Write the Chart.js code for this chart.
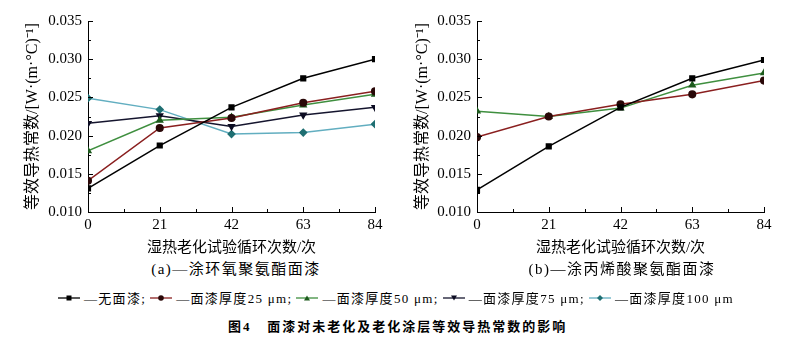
<!DOCTYPE html>
<html>
<head>
<meta charset="utf-8">
<script src="https://cdn.jsdelivr.net/npm/chart.js@4.4.0/dist/chart.umd.min.js"></script>
<style>
  body { margin: 0; background: #fff; width: 800px; height: 341px; position: relative; overflow: hidden;
         font-family: "Liberation Serif", "Noto Sans CJK SC", serif; color: #000; }
  .box { position: absolute; top: 0; width: 400px; height: 257px; }
  .sub { position: absolute; top: 257px; font-size: 15px; letter-spacing: 1.5px; white-space: nowrap; transform: translateX(-50%); }
  #legend { position: absolute; top: 288px; left: 58px; font-size: 13px; letter-spacing: 1.3px; white-space: nowrap; display: flex; align-items: center; }
  #legend span.item { display: inline-flex; align-items: center; margin-right: 4px; }
  #legend svg { margin-right: 4px; }
  #caption { position: absolute; top: 316px; left: 228px; font-size: 13px; letter-spacing: 2px; white-space: nowrap; font-weight: bold; }
</style>
</head>
<body>
<div class="box" style="left:0"><canvas id="chartA"></canvas></div>
<div class="box" style="left:390px"><canvas id="chartB"></canvas></div>
<div class="sub" style="left:236px">(a)—涂环氧聚氨酯面漆</div>
<div class="sub" style="left:622px">(b)—涂丙烯酸聚氨酯面漆</div>
<div id="legend"></div>
<div id="caption">图4&nbsp;&nbsp;&nbsp;面漆对未老化及老化涂层等效导热常数的影响</div>
<script>
// 습열 노화 사이클 수 (x축)
const cycles = [0, 21, 42, 63, 84];
const seriesNames = ['无面漆', '面漆厚度25 μm', '面漆厚度50 μm', '面漆厚度75 μm', '面漆厚度100 μm'];

// (a) 涂环氧聚氨酯面漆
const aNone = [0.0131, 0.0187, 0.0237, 0.0275, 0.0300];
const a25 = [0.0141, 0.0210, 0.0223, 0.0243, 0.0258];
const a50 = [0.0180, 0.0220, 0.0224, 0.0240, 0.0254];
const a75 = [0.0216, 0.0226, 0.0212, 0.0227, 0.0237];
const a100 = [0.0249, 0.0234, 0.0202, 0.0204, 0.0215];

// (b) 涂丙烯酸聚氨酯面漆
const bNone = [0.0129, 0.0186, 0.0237, 0.0275, 0.0299];
const b25 = [0.0198, 0.0225, 0.0241, 0.0254, 0.0272];
const b50 = [0.0232, 0.0225, 0.0236, 0.0266, 0.0282];

const yMin = 0.010, yMax = 0.035, yStep = 0.005;
const xStep = 21;

const xTitle = '湿热老化试验循环次数/次';
const yTitle = '等效导热常数/[W·(m·°C)⁻¹]';

// 시리즈별 스타일
const styles = [
  { line: '#000000', point: '#000000', shape: 'rect', rot: 0 },
  { line: '#8a1f1f', point: '#2a0808', shape: 'circle', rot: 0 },
  { line: '#3f8f3f', point: '#1d5a1d', shape: 'triangle', rot: 0 },
  { line: '#15152e', point: '#0c0c22', shape: 'triangle', rot: 180 },
  { line: '#62aec0', point: '#1f6f72', shape: 'rectRot', rot: 0 }
];

const FONT = '"Liberation Serif", "Noto Sans CJK SC", serif';

function makeDataset(values, i) {
  const s = styles[i];
  return {
    label: seriesNames[i],
    data: cycles.map((c, k) => ({ x: c, y: values[k] })),
    borderColor: s.line,
    borderWidth: 1.5,
    backgroundColor: s.point,
    pointBackgroundColor: s.point,
    pointBorderColor: s.point,
    pointStyle: s.shape,
    rotation: s.rot,
    pointRadius: 3.3,
    tension: 0
  };
}

// 안쪽으로 향하는 눈금 그리기
const inwardTicks = {
  id: 'inwardTicks',
  afterDatasetsDraw(chart) {
    const { ctx, scales: { x, y } } = chart;
    ctx.save();
    ctx.strokeStyle = '#000';
    ctx.lineWidth = 1;
    ctx.beginPath();
    x.ticks.forEach((t, i) => {
      const px = Math.round(x.getPixelForValue(t.value)) + 0.5;
      ctx.moveTo(px, x.top); ctx.lineTo(px, x.top - 5);
      if (i < x.ticks.length - 1) {
        const mx = Math.round(x.getPixelForValue((t.value + x.ticks[i + 1].value) / 2)) + 0.5;
        ctx.moveTo(mx, x.top); ctx.lineTo(mx, x.top - 3);
      }
    });
    y.ticks.forEach((t, i) => {
      const py = Math.round(y.getPixelForValue(t.value)) + 0.5;
      ctx.moveTo(y.right, py); ctx.lineTo(y.right + 5, py);
      if (i < y.ticks.length - 1) {
        const my = Math.round(y.getPixelForValue((t.value + y.ticks[i + 1].value) / 2)) + 0.5;
        ctx.moveTo(y.right, my); ctx.lineTo(y.right + 3, my);
      }
    });
    ctx.stroke();
    ctx.restore();
  }
};

function makeChart(id, datasets, yWidth, padRight) {
  return new Chart(document.getElementById(id), {
    type: 'line',
    data: { datasets: datasets },
    plugins: [inwardTicks],
    options: {
      responsive: true,
      maintainAspectRatio: false,
      animation: false,
      layout: { padding: { top: 21, right: padRight, bottom: 0, left: 0 } },
      plugins: { legend: { display: false }, tooltip: { enabled: false } },
      scales: {
        x: {
          type: 'linear',
          min: cycles[0],
          max: cycles[cycles.length - 1],
          grid: { display: true, drawOnChartArea: false, drawTicks: false },
          border: { display: true, color: '#000', width: 1 },
          ticks: { stepSize: xStep, padding: 4, color: '#000', font: { family: FONT, size: 15 } },
          title: { display: true, text: xTitle, color: '#000', padding: 0, font: { family: FONT, size: 15 } },
          afterFit(scale) { scale.height = 45; }
        },
        y: {
          min: yMin,
          max: yMax,
          grid: { display: true, drawOnChartArea: false, drawTicks: false },
          border: { display: true, color: '#000', width: 1 },
          ticks: {
            stepSize: yStep, padding: 6, color: '#000', font: { family: FONT, size: 15 },
            callback: v => v.toFixed(3)
          },
          title: { display: true, text: yTitle, color: '#000', padding: { top: 23, bottom: 0 }, font: { family: FONT, size: 16 } },
          afterFit(scale) { scale.width = yWidth; }
        }
      }
    }
  });
}

makeChart('chartA', [aNone, a25, a50, a75, a100].map(makeDataset), 88, 25);
makeChart('chartB', [bNone, b25, b50].map(makeDataset), 87, 26);

// 범례 (두 그래프 공용)
function markerSvg(s) {
  const c = s.point;
  let m = '';
  if (s.shape === 'rect') m = `<rect x="8.5" y="2.5" width="5" height="5" fill="${c}"/>`;
  else if (s.shape === 'circle') m = `<circle cx="11" cy="5" r="2.8" fill="${c}"/>`;
  else if (s.shape === 'rectRot') m = `<polygon points="11,2 14,5 11,8 8,5" fill="${c}"/>`;
  else if (s.rot === 180) m = `<polygon points="8,2.5 14,2.5 11,7.5" fill="${c}"/>`;
  else m = `<polygon points="8,7.5 14,7.5 11,2.5" fill="${c}"/>`;
  return `<svg width="22" height="10"><line x1="0" y1="5" x2="22" y2="5" stroke="${s.line}" stroke-width="1.3"/>${m}</svg>`;
}
document.getElementById('legend').innerHTML = seriesNames.map((n, i) =>
  `<span class="item">${markerSvg(styles[i])}—${n}${i < seriesNames.length - 1 ? ';' : ''}</span>`
).join('');
</script>
</body>
</html>
